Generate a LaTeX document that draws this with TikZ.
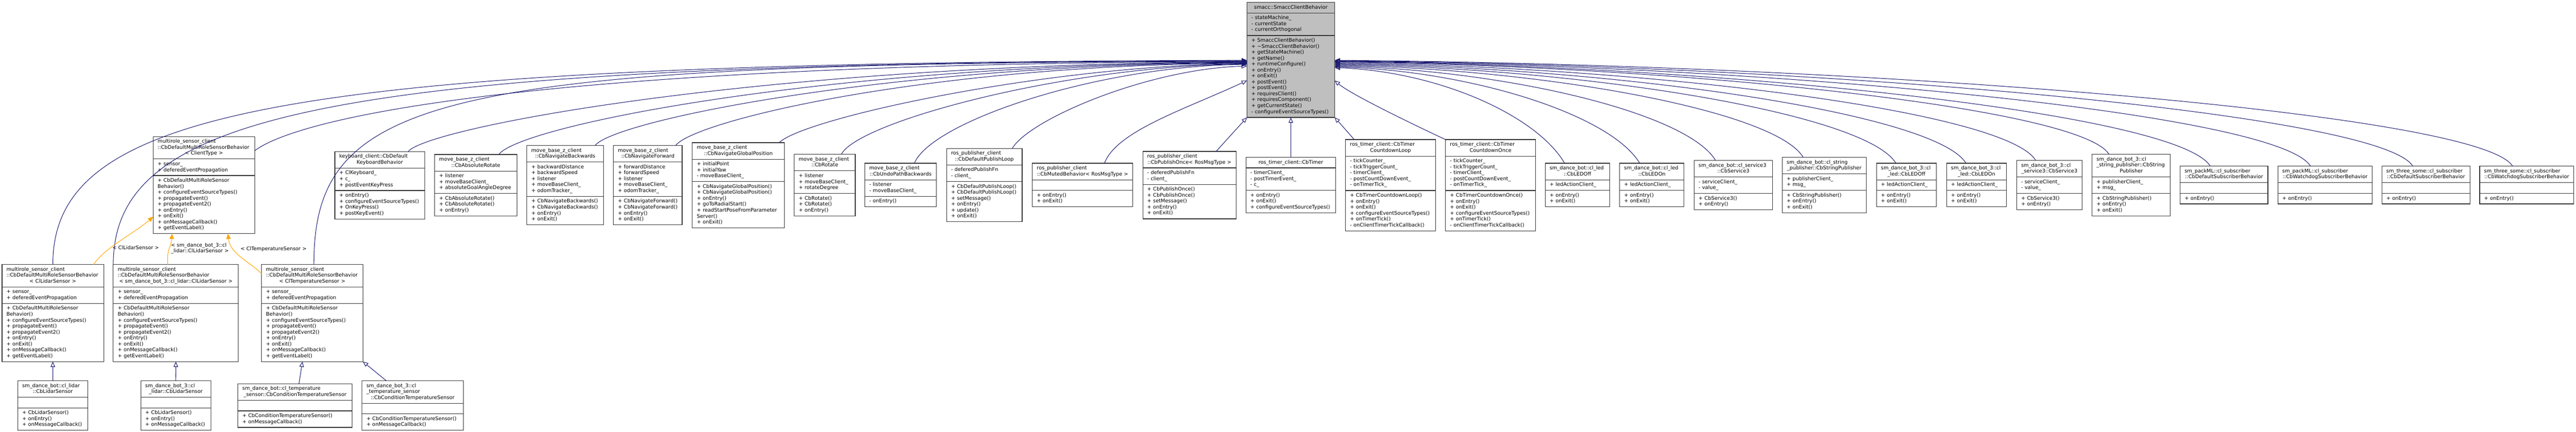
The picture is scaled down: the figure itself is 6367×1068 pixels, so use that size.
\documentclass[tikz,border=0pt]{standalone}
\usepackage{fontspec}
\setmainfont{DejaVu Sans}
\usetikzlibrary{shapes.multipart,arrows.meta}
\definecolor{edgeblue}{RGB}{25,25,112}
\definecolor{tplorange}{RGB}{255,165,0}
\definecolor{basegray}{RGB}{191,191,191}
\setlength\parindent{0pt}
\setlength\parskip{0pt}
\newcommand\umlfont{\fontsize{12.5}{14.7}\selectfont}
\newcommand\umllines[1]{\foreach \umlitem [count=\umlidx] in {#1}{\ifnum\umlidx>1 \par\fi\mbox{\strut\umlitem}}}
\newcommand\umlclass[9][]{%
  \node[clsbox,#1,text width={#5-22},anchor=north west] (#2) at (#3,#4)
    {\umlfont\strut\umllines{#6}\ifx\relax#6\relax\else\par\fi\makebox[\linewidth]{\strut#7}%
     \nodepart{two}\umlfont\strut\umllines{#8}%
     \nodepart{three}\umlfont\strut\umllines{#9}};}
\tikzset{
  clsbox/.style={rectangle split,rectangle split parts=3,draw=black!80,line width=1.5pt,
    fill=white,inner xsep=11pt,inner ysep=5pt,outer sep=0pt,align=left,font=\umlfont},
  inh/.style={draw=edgeblue,line width=1.3pt,-{Triangle[open,length=13pt,width=11pt]}},
  tpl/.style={draw=tplorange,line width=1.3pt,-{Triangle[length=13pt,width=11pt]}},
  lbl/.style={font=\umlfont,inner sep=4pt,align=left}
}

\begin{document}
\begin{tikzpicture}[x=1pt,y=-1pt]
  \path[use as bounding box,fill=white] (0,0) rectangle (6367,1068);

  \umlclass[fill=basegray]{Base}{3082}{6}{217}{}{smacc::SmaccClientBehavior}
    {- stateMachine\_, - currentState, - currentOrthogonal}
    {+ SmaccClientBehavior(), + \textasciitilde SmaccClientBehavior(), + getStateMachine(), + getName(), + runtimeConfigure(), + onEntry(), + onExit(), + postEvent(), + postEvent(), + requiresClient(), + requiresComponent(), + getCurrentState(), - configureEventSourceTypes()}

  \umlclass{MsGen}{378.6}{337.7}{251}{multirole\_sensor\_client, ::CbDefaultMultiRoleSensorBehavior}{< ClientType >}
    {+ sensor\_, + deferedEventPropagation}
    {+ CbDefaultMultiRoleSensor, Behavior(), + configureEventSourceTypes(), + propagateEvent(), + propagateEvent2(), + onEntry(), + onExit(), + onMessageCallback(), + getEventLabel()}
  \umlclass{Keyboard}{827.6}{374.7}{222.4}{keyboard\_client::CbDefault}{KeyboardBehavior}
    {+ ClKeyboard\_, + c\_, + postEventKeyPress}
    {+ onEntry(), + configureEventSourceTypes(), + OnKeyPress(), + postKeyEvent()}
  \umlclass{AbsRotate}{1074.5}{382}{203}{move\_base\_z\_client}{::CbAbsoluteRotate}
    {+ listener, + moveBaseClient\_, + absoluteGoalAngleDegree}
    {+ CbAbsoluteRotate(), + CbAbsoluteRotate(), + onEntry()}
  \umlclass{NavBack}{1302.4}{359.7}{189.4}{move\_base\_z\_client}{::CbNavigateBackwards}
    {+ backwardDistance, + backwardSpeed, + listener, + moveBaseClient\_, + odomTracker\_}
    {+ CbNavigateBackwards(), + CbNavigateBackwards(), + onEntry(), + onExit()}
  \umlclass{NavFwd}{1516.3}{359.7}{169.7}{move\_base\_z\_client}{::CbNavigateForward}
    {+ forwardDistance, + forwardSpeed, + listener, + moveBaseClient\_, + odomTracker\_}
    {+ CbNavigateForward(), + CbNavigateForward(), + onEntry(), + onExit()}
  \umlclass{NavGlobal}{1711.3}{352.7}{227.3}{move\_base\_z\_client}{::CbNavigateGlobalPosition}
    {+ initialPoint, + initialYaw, - moveBaseClient\_}
    {+ CbNavigateGlobalPosition(), + CbNavigateGlobalPosition(), + onEntry(), + goToRadialStart(), + readStartPoseFromParameter, Server(), + onExit()}
  \umlclass{Rotate}{1963.2}{381.7}{150.7}{move\_base\_z\_client}{::CbRotate}
    {+ listener, + moveBaseClient\_, + rotateDegree}
    {+ CbRotate(), + CbRotate(), + onEntry()}
  \umlclass{UndoPath}{2137.7}{403.7}{176.8}{move\_base\_z\_client}{::CbUndoPathBackwards}
    {- listener, - moveBaseClient\_}
    {- onEntry()}
  \umlclass{PubLoop}{2339.7}{367}{186.6}{ros\_publisher\_client}{::CbDefaultPublishLoop}
    {- deferedPublishFn, - client\_}
    {+ CbDefaultPublishLoop(), + CbDefaultPublishLoop(), + setMessage(), + onEntry(), + update(), + onExit()}
  \umlclass{Muted}{2551.6}{403.7}{248.4}{ros\_publisher\_client}{::CbMutedBehavior< RosMsgType >}
    {}
    {+ onEntry(), + onExit()}
  \umlclass{PubOnce}{2824.5}{374.3}{230.8}{ros\_publisher\_client}{::CbPublishOnce< RosMsgType >}
    {- deferedPublishFn, - client\_}
    {+ CbPublishOnce(), + CbPublishOnce(), + setMessage(), + onEntry(), + onExit()}
  \umlclass{Timer}{3079.5}{389}{222.2}{}{ros\_timer\_client::CbTimer}
    {- timerClient\_, - postTimerEvent\_, - c\_}
    {+ onEntry(), + onExit(), + configureEventSourceTypes()}
  \umlclass{TimerLoop}{3325.8}{345.2}{222.2}{ros\_timer\_client::CbTimer}{CountdownLoop}
    {- tickCounter\_, - tickTriggerCount\_, - timerClient\_, - postCountDownEvent\_, - onTimerTick\_}
    {+ CbTimerCountdownLoop(), + onEntry(), + onExit(), + configureEventSourceTypes(), + onTimerTick(), - onClientTimerTickCallback()}
  \umlclass{TimerOnce}{3572.9}{345.2}{222.2}{ros\_timer\_client::CbTimer}{CountdownOnce}
    {- tickCounter\_, - tickTriggerCount\_, - timerClient\_, - postCountDownEvent\_, - onTimerTick\_}
    {+ CbTimerCountdownOnce(), + onEntry(), + onExit(), + configureEventSourceTypes(), + onTimerTick(), - onClientTimerTickCallback()}
  \umlclass{LedOff}{3819.1}{403.7}{159.2}{sm\_dance\_bot::cl\_led}{::CbLEDOff}
    {+ ledActionClient\_}
    {+ onEntry(), + onExit()}
  \umlclass{LedOn}{4003.2}{403.7}{159.2}{sm\_dance\_bot::cl\_led}{::CbLEDOn}
    {+ ledActionClient\_}
    {+ onEntry(), + onExit()}
  \umlclass{Srv3}{4187.3}{396.7}{193.9}{sm\_dance\_bot::cl\_service3}{::CbService3}
    {- serviceClient\_, - value\_}
    {+ CbService3(), + onEntry()}
  \umlclass{StrPub}{4405}{389}{207.7}{sm\_dance\_bot::cl\_string}{\_publisher::CbStringPublisher}
    {+ publisherClient\_, + msg\_}
    {+ CbStringPublisher(), + onEntry(), + onExit()}
  \umlclass{LedOffB}{4638}{403.7}{148}{sm\_dance\_bot\_3::cl}{\_led::CbLEDOff}
    {+ ledActionClient\_}
    {+ onEntry(), + onExit()}
  \umlclass{LedOnB}{4811.2}{403.7}{148}{sm\_dance\_bot\_3::cl}{\_led::CbLEDOn}
    {+ ledActionClient\_}
    {+ onEntry(), + onExit()}
  \umlclass{Srv3B}{4984.5}{396.7}{162}{sm\_dance\_bot\_3::cl}{\_service3::CbService3}
    {- serviceClient\_, - value\_}
    {+ CbService3(), + onEntry()}
  \umlclass{StrPubB}{5171}{381.7}{193.6}{sm\_dance\_bot\_3::cl, \_string\_publisher::CbString}{Publisher}
    {+ publisherClient\_, + msg\_}
    {+ CbStringPublisher(), + onEntry(), + onExit()}
  \umlclass{PackDef}{5388.5}{411}{217}{sm\_packML::cl\_subscriber}{::CbDefaultSubscriberBehavior}
    {}
    {+ onEntry()}
  \umlclass{PackDog}{5630}{411}{233.5}{sm\_packML::cl\_subscriber}{::CbWatchdogSubscriberBehavior}
    {}
    {+ onEntry()}
  \umlclass{ThreeDef}{5887.3}{411}{217.7}{sm\_three\_some::cl\_subscriber}{::CbDefaultSubscriberBehavior}
    {}
    {+ onEntry()}
  \umlclass{ThreeDog}{6128.8}{411}{232.8}{sm\_three\_some::cl\_subscriber}{::CbWatchdogSubscriberBehavior}
    {}
    {+ onEntry()}

  \umlclass{MsLidar}{5.1}{654}{251}{multirole\_sensor\_client, ::CbDefaultMultiRoleSensorBehavior}{< ClLidarSensor >}
    {+ sensor\_, + deferedEventPropagation}
    {+ CbDefaultMultiRoleSensor, Behavior(), + configureEventSourceTypes(), + propagateEvent(), + propagateEvent2(), + onEntry(), + onExit(), + onMessageCallback(), + getEventLabel()}
  \umlclass{MsLidarB}{280}{654}{309.3}{multirole\_sensor\_client, ::CbDefaultMultiRoleSensorBehavior}{< sm\_dance\_bot\_3::cl\_lidar::ClLidarSensor >}
    {+ sensor\_, + deferedEventPropagation}
    {+ CbDefaultMultiRoleSensor, Behavior(), + configureEventSourceTypes(), + propagateEvent(), + propagateEvent2(), + onEntry(), + onExit(), + onMessageCallback(), + getEventLabel()}
  \umlclass{MsTemp}{646.5}{654}{250.5}{multirole\_sensor\_client, ::CbDefaultMultiRoleSensorBehavior}{< ClTemperatureSensor >}
    {+ sensor\_, + deferedEventPropagation}
    {+ CbDefaultMultiRoleSensor, Behavior(), + configureEventSourceTypes(), + propagateEvent(), + propagateEvent2(), + onEntry(), + onExit(), + onMessageCallback(), + getEventLabel()}

  \umlclass{Lidar}{43.9}{941.7}{173.4}{sm\_dance\_bot::cl\_lidar}{::CbLidarSensor}
    {}
    {+ CbLidarSensor(), + onEntry(), + onMessageCallback()}
  \umlclass{LidarB}{348}{941.7}{173}{sm\_dance\_bot\_3::cl}{\_lidar::CbLidarSensor}
    {}
    {+ CbLidarSensor(), + onEntry(), + onMessageCallback()}
  \umlclass{Temp}{588}{949}{282.6}{sm\_dance\_bot::cl\_temperature}{\_sensor::CbConditionTemperatureSensor}
    {}
    {+ CbConditionTemperatureSensor(), + onMessageCallback()}
  \umlclass{TempB}{894.7}{941.7}{250.5}{sm\_dance\_bot\_3::cl, \_temperature\_sensor}{::CbConditionTemperatureSensor}
    {}
    {+ CbConditionTemperatureSensor(), + onMessageCallback()}

  \draw[inh] (MsLidar.north) .. controls +(0,-380) and +(-2400,5) .. ([yshift=-1pt]Base.west);
  \draw[inh] (MsLidarB.north west) .. controls +(0,-380) and +(-2250,5) .. ([yshift=-2pt]Base.west);
  \draw[inh] ([xshift=4pt]MsTemp.north) .. controls +(0,-420) and +(-2000,5) .. ([yshift=-3pt]Base.west);
  \draw[inh] ([yshift=-35pt]MsGen.north east) .. controls +(120,-90) and +(-1700,5) .. ([yshift=-4pt]Base.west);
  \draw[inh] ([xshift=70pt]Keyboard.north) .. controls +(50,-60) and +(-1200,5) .. ([yshift=-5pt]Base.west);
  \draw[inh] ([xshift=57pt]AbsRotate.north) .. controls +(50,-70) and +(-1050,5) .. ([yshift=-6pt]Base.west);
  \draw[inh] ([xshift=74pt]NavBack.north) .. controls +(45,-60) and +(-900,5) .. ([yshift=-7pt]Base.west);
  \draw[inh] ([xshift=69pt]NavFwd.north) .. controls +(45,-60) and +(-800,5) .. ([yshift=-8pt]Base.west);
  \draw[inh] ([xshift=101pt]NavGlobal.north) .. controls +(60,-60) and +(-500,5) .. ([yshift=-9pt]Base.west);
  \draw[inh] ([xshift=41pt]Rotate.north) .. controls +(40,-80) and +(-450,5) .. ([yshift=-10pt]Base.west);
  \draw[inh] ([xshift=34pt]UndoPath.north) .. controls +(40,-100) and +(-380,5) .. ([yshift=-11pt]Base.west);
  \draw[inh] ([xshift=69pt]PubLoop.north) .. controls +(40,-70) and +(-250,8) .. ([yshift=-15pt]Base.west);
  \draw[inh] ([xshift=54pt]Muted.north) .. controls +(30,-80) and +(-150,70) .. ([yshift=-51pt]Base.west);
  \draw[inh] ([xshift=66pt]PubOnce.north) -- (Base.south west);
  \draw[inh] (Timer.north) -- (Base.south);
  \draw[inh] ([xshift=21.5pt]TimerLoop.north west) -- (Base.south east);
  \draw[inh] (TimerOnce.north west) .. controls +(-60,-28) and +(40,35) .. ([yshift=-51pt]Base.east);
  \draw[inh] ([xshift=-31.5pt]LedOff.north) .. controls +(-70,-119) and +(256,10) .. ([yshift=-19pt]Base.east);
  \draw[inh] ([xshift=-30pt]LedOn.north) .. controls +(-72,-120) and +(339,10) .. ([yshift=-17pt]Base.east);
  \draw[inh] ([xshift=-44pt]Srv3.north) .. controls +(-71,-118) and +(423,10) .. ([yshift=-15pt]Base.east);
  \draw[inh] ([xshift=-52pt]StrPub.north) .. controls +(-69,-115) and +(521,10) .. ([yshift=-13pt]Base.east);
  \draw[inh] ([xshift=-26pt]LedOffB.north) .. controls +(-74,-123) and +(624,10) .. ([yshift=-11pt]Base.east);
  \draw[inh] ([xshift=-26pt]LedOnB.north) .. controls +(-75,-124) and +(702,10) .. ([yshift=-9pt]Base.east);
  \draw[inh] ([xshift=-34pt]Srv3B.north) .. controls +(-73,-122) and +(780,10) .. ([yshift=-7pt]Base.east);
  \draw[inh] ([xshift=-55pt]StrPubB.north) .. controls +(-69,-115) and +(861,10) .. ([yshift=-5pt]Base.east);
  \draw[inh] ([xshift=-34pt]PackDef.north) .. controls +(-78,-130) and +(974,10) .. ([yshift=-4pt]Base.east);
  \draw[inh] ([xshift=-36pt]PackDog.north) .. controls +(-79,-131) and +(1085,10) .. ([yshift=-3pt]Base.east);
  \draw[inh] ([xshift=-32.5pt]ThreeDef.north) .. controls +(-79,-131) and +(1199,10) .. ([yshift=-2pt]Base.east);
  \draw[inh] ([xshift=-35pt]ThreeDog.north) .. controls +(-79,-132) and +(1310,10) .. ([yshift=-1pt]Base.east);

  \draw[inh] (Lidar.north) -- (MsLidar.south);
  \draw[inh] (LidarB.north) -- (MsLidarB.south);
  \draw[inh] ([xshift=9.7pt]Temp.north) -- ([xshift=-24.3pt]MsTemp.south);
  \draw[inh] ([xshift=-65pt]TempB.north) -- (MsTemp.south east);

  \draw[tpl] ([xshift=101pt]MsLidar.north) .. controls +(25,-40) and +(-45,40) .. node[lbl,right,pos=0.35] (LblLidar) {< ClLidarSensor >} ([yshift=-78pt]MsGen.west);
  \draw[tpl] ([xshift=-20pt]MsLidarB.north) .. controls +(-3,-40) and +(-2,35) .. node[lbl,right,pos=0.5] (LblLidarB) {< sm\_dance\_bot\_3::cl\\\_lidar::ClLidarSensor >} ([xshift=-79pt]MsGen.south);
  \draw[tpl] ([yshift=-22.7pt]MsTemp.north west) .. controls +(-30,-30) and +(5,50) .. node[lbl,right,pos=0.7,xshift=12pt] (LblTemp) {< ClTemperatureSensor >} ([xshift=59.4pt]MsGen.south);
\end{tikzpicture}
\end{document}
